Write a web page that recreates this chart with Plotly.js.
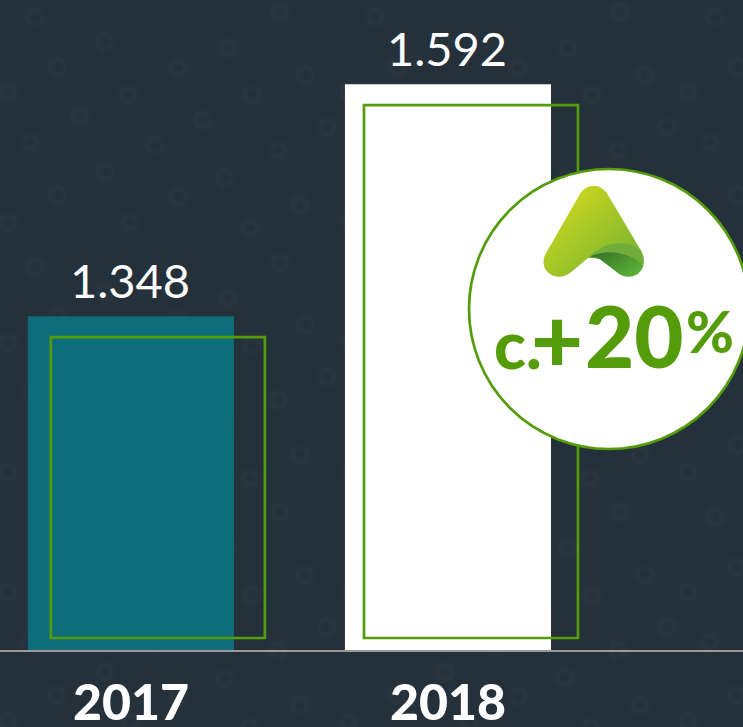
<!DOCTYPE html>
<html><head><meta charset="utf-8">
<script src="https://cdn.plot.ly/plotly-3.0.1.min.js"></script>
<style>html,body{margin:0;padding:0;background:#24303a;overflow:hidden}#c{width:743px;height:727px}</style>
</head><body><div id="c"></div>
<script>
const years = ['2017','2018'];
const values = [1.348,1.592];
const labels = ['1.348','1.592'];
const outlineBase = [1.0096,1.0096];
const outlineTop = [1.326,1.570];
const barColors = ['#0e6d7b','#ffffff'];
const GREEN = '#559c0b';

const logoSvg = `<svg xmlns="http://www.w3.org/2000/svg" viewBox="240 70 320 290" width="320" height="290">
<defs>
<linearGradient id="a" x1="0" y1="0" x2="1" y2="1"><stop offset="0.1" stop-color="#d2d81f"/><stop offset="0.9" stop-color="#76b52f"/></linearGradient>
<linearGradient id="b" x1="0" y1="0" x2="1" y2="0.6"><stop offset="0.05" stop-color="#356f26"/><stop offset="1" stop-color="#59b036"/></linearGradient>
</defs>
<path fill="url(#a)" d="M358 105C380 68 422 68 444 105L545 275L500 290L385 293L335 335C322 345 310 350 297 350C265 350 240 320 255 285Z"/>
<path fill="#71ad3b" d="M385 293C430 243 505 235 545 275C553 290 553 305 550 318L470 300Z"/>
<path fill="url(#b)" d="M390 290C440 265 510 275 550 318C545 335 528 350 508 350C490 350 480 345 465 332L420 298C410 292 400 290 390 290Z"/>
</svg>`;

const ringSpots = [[35,17],[105,42],[57,67],[178,68],[128,95],[228,48],[280,12],[203,120],[252,95],[305,75],[327,127],[8,92],[30,142],[80,115],[155,145],[105,172],[57,195],[178,197],[225,178],[278,150],[300,205],[8,222],[130,222],[250,228]];
const rings = ringSpots.map(p=>`<circle cx="${p[0]}" cy="${p[1]}" r="7.5" fill="none" stroke="#34404b" stroke-width="4"/><circle cx="${p[0]}" cy="${p[1]}" r="2" fill="#1f2a34"/>`).join('');
const bgSvg = `<svg xmlns="http://www.w3.org/2000/svg" width="743" height="727" viewBox="0 0 743 727">
<defs><filter id="f"><feGaussianBlur stdDeviation="1.4"/></filter>
<pattern id="p" width="340" height="250" patternUnits="userSpaceOnUse"><g filter="url(#f)" opacity="0.28">${rings}</g></pattern></defs>
<rect width="743" height="727" fill="url(#p)"/></svg>`;

Plotly.newPlot('c', [
  {type:'bar', x:years, y:values, marker:{color:barColors, line:{width:0}}, width:0.65, hoverinfo:'skip', showlegend:false},
  {type:'bar', x:years, y:outlineTop.map((v,i)=>v-outlineBase[i]), base:outlineBase,
   width:0.675, offset:[-0.2525,-0.2649], marker:{color:'rgba(0,0,0,0)', line:{color:GREEN, width:2.7}}, hoverinfo:'skip', showlegend:false},
  {type:'scatter', mode:'markers', x:[609], y:[309], xaxis:'x2', yaxis:'y2', cliponaxis:false,
   marker:{size:280, color:'#ffffff', line:{color:GREEN, width:2.7}}, hoverinfo:'skip', showlegend:false}
], {
  width:743, height:727,
  margin:{l:0,r:0,t:0,b:77,pad:0},
  paper_bgcolor:'#24303a', plot_bgcolor:'rgba(0,0,0,0)',
  barmode:'overlay', showlegend:false,
  font:{family:'Lato, sans-serif', color:'#ffffff'},
  xaxis:{type:'category', range:[-0.413,1.9306], showgrid:false, zeroline:false, showline:true, linecolor:'#9a9a9a', linewidth:2,
         ticks:'', tickfont:{family:'Lato', size:50, color:'#ffffff', weight:900}, ticklabelstandoff:8, fixedrange:true},
  yaxis:{range:[0.997,1.6805], visible:false, fixedrange:true},
  xaxis2:{overlaying:'x', range:[0,743], visible:false, fixedrange:true},
  yaxis2:{overlaying:'y', range:[650,0], visible:false, fixedrange:true},
  images:[
    {source:'data:image/svg+xml;base64,'+btoa(bgSvg), xref:'paper', yref:'paper', layer:'below',
     x:0, y:1, sizex:1, sizey:727/650, sizing:'stretch', xanchor:'left', yanchor:'top'},
    {source:'data:image/svg+xml;base64,'+btoa(logoSvg), xref:'paper', yref:'paper', layer:'above',
     x:(460+240/3)/743, y:(650-(160+70/3))/650, sizex:(320/3)/743, sizey:(290/3)/650, sizing:'stretch', xanchor:'left', yanchor:'top'}],
  annotations: labels.map((t,i)=>({x:i, y:values[i], xref:'x', yref:'y', text:t, showarrow:false, yanchor:'bottom', yshift:6, xshift:-1,
      font:{family:'Lato', size:47, color:'#ffffff'}})).concat([
    {xref:'paper',yref:'paper',x:518/743,y:(650-344)/650,xanchor:'center',yanchor:'middle',text:'c.',showarrow:false,font:{family:'Lato',size:66,color:GREEN,weight:900}},
    {xref:'paper',yref:'paper',x:557/743,y:(650-337)/650,xanchor:'center',yanchor:'middle',text:'+',showarrow:false,font:{family:'Lato',size:90,color:GREEN,weight:900}},
    {xref:'paper',yref:'paper',x:634/743,y:(650-335)/650,xanchor:'center',yanchor:'middle',text:'20',showarrow:false,font:{family:'Lato',size:85,color:GREEN,weight:900}},
    {xref:'paper',yref:'paper',x:710/743,y:(650-331)/650,xanchor:'center',yanchor:'middle',text:'%',showarrow:false,font:{family:'Lato',size:58,color:GREEN,weight:900}}
  ])
}, {displayModeBar:false, staticPlot:true});
</script></body></html>
